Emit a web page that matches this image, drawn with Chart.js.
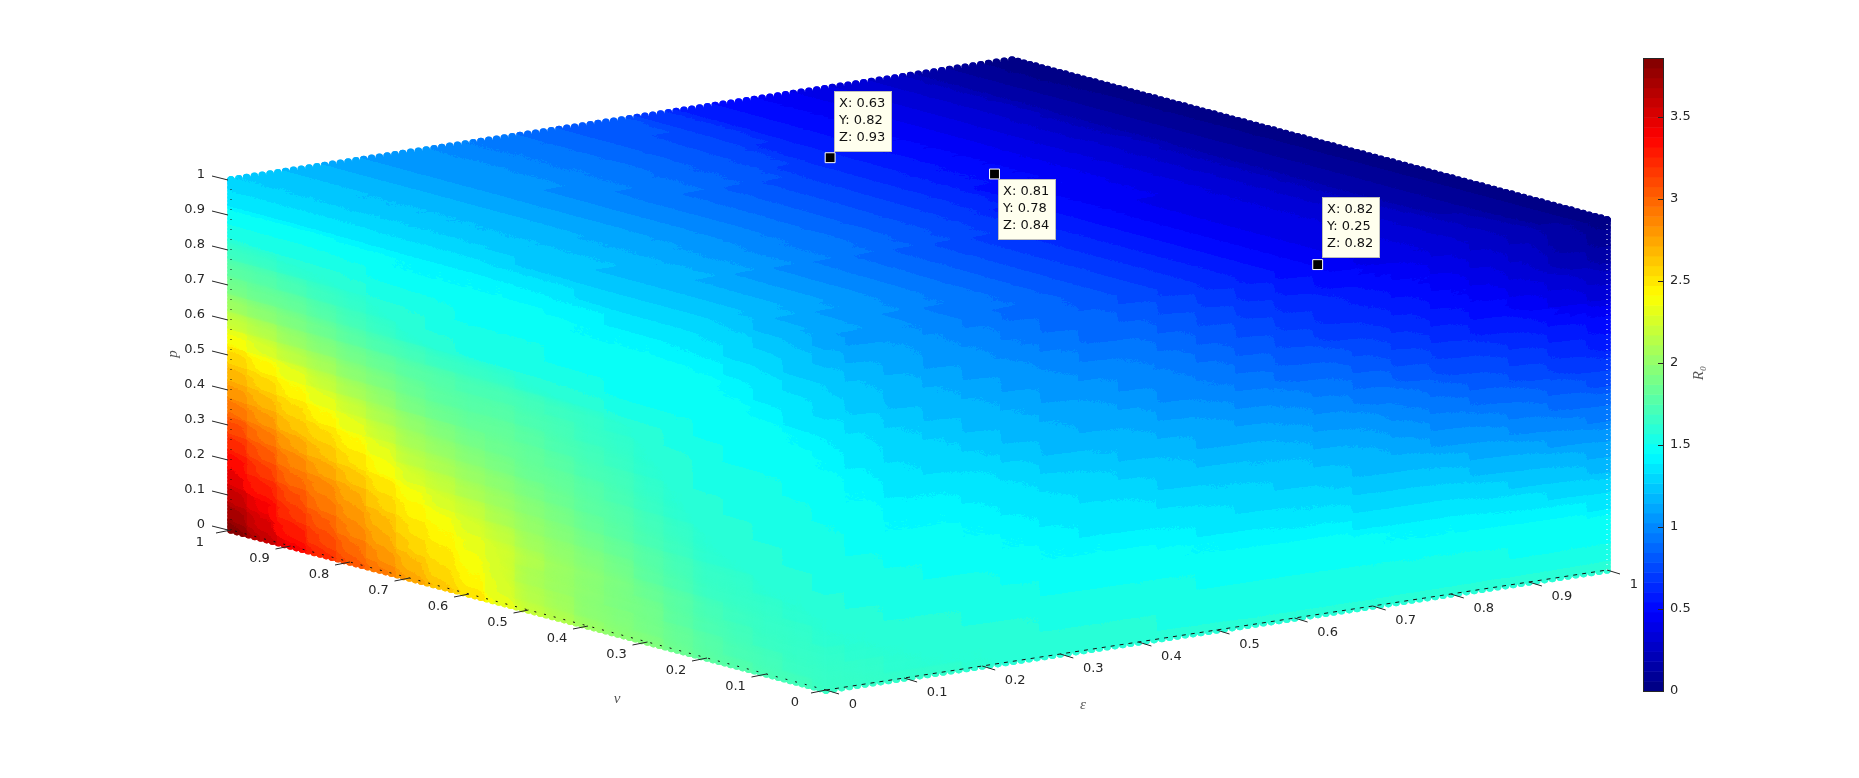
<!DOCTYPE html>
<html><head><meta charset="utf-8"><title>R0 over epsilon, nu and p</title>
<style>html,body{margin:0;padding:0;background:#fff}canvas{display:block}</style>
<script src="https://cdn.jsdelivr.net/npm/chart.js@4"></script></head><body>
<canvas id="c" width="1859" height="778"></canvas>
<script>
// Tick labels
const axisTicks = ["0","0.1","0.2","0.3","0.4","0.5","0.6","0.7","0.8","0.9","1"];
const colorbarTicks = [0,0.5,1,1.5,2,2.5,3,3.5];
const colorMax = 3.86;
// Data tips: epsilon (X), nu (Y), p (Z)
const tipEpsilon = [0.63,0.81,0.82];
const tipNu = [0.82,0.78,0.25];
const tipP = [0.93,0.84,0.82];
// R0 x 100, steps of 0.05.
// Face epsilon = 0: rows p = 0..1, columns nu = 0..1
const faceEpsilon0 = [
[167,169,172,176,180,186,193,199,205,212,220,235,250,262,275,290,305,322,340,361,383],
[165,167,169,173,177,183,189,194,199,206,213,228,243,254,266,281,296,313,330,351,372],
[163,165,166,170,174,180,187,192,198,205,211,225,238,248,258,272,287,303,319,340,360],
[162,163,165,168,171,178,185,192,198,205,212,224,235,243,252,266,280,294,308,328,348],
[160,162,163,165,167,174,180,187,193,200,206,218,227,236,245,259,272,285,297,316,335],
[158,160,161,163,165,171,177,183,188,195,202,211,219,227,236,249,263,275,287,305,323],
[156,158,159,161,162,168,173,178,183,191,197,205,211,218,226,240,253,265,276,293,310],
[155,156,158,159,160,165,170,175,180,186,191,198,203,210,217,230,243,254,265,280,295],
[153,155,156,157,158,162,166,172,177,182,185,191,195,201,208,220,232,243,254,267,280],
[151,153,155,156,157,160,164,169,173,178,182,186,188,193,200,210,221,232,243,255,268],
[149,151,153,154,155,159,162,166,169,174,178,181,181,186,191,200,209,220,231,243,255],
[147,149,151,152,153,157,161,164,167,171,174,177,177,180,185,192,199,208,217,227,238],
[145,147,149,150,151,155,159,162,165,168,169,172,173,175,178,183,188,196,203,212,220],
[142,145,147,148,150,152,154,156,158,159,161,163,165,166,169,174,179,186,192,198,204],
[139,142,145,147,148,149,149,150,151,152,153,154,155,158,160,165,170,176,181,185,188],
[136,138,141,144,146,147,148,148,149,150,151,151,152,154,157,160,164,168,172,175,178],
[132,135,137,141,144,145,146,147,147,148,148,149,149,151,153,156,158,160,162,165,167],
[128,130,133,136,139,140,142,142,143,144,145,145,146,147,148,150,151,153,154,155,156],
[124,126,129,132,134,136,137,138,139,140,141,142,142,143,143,144,144,145,146,146,145],
[118,121,124,127,129,130,131,131,132,133,134,134,135,135,135,135,136,136,137,137,136],
[112,116,119,122,124,125,125,125,125,126,126,127,127,127,127,127,127,128,128,128,127]];
// Face nu = 0: rows p = 0..1, columns epsilon = 0..1
const faceNu0 = [
[167,165,164,163,162,161,160,160,159,159,158,158,157,158,158,159,159,160,160,161,162],
[165,163,162,161,160,159,158,157,157,156,156,155,155,155,155,155,155,155,155,156,156],
[163,162,160,159,158,157,155,155,154,154,153,153,153,153,152,152,151,151,150,150,150],
[162,160,158,157,156,154,153,152,152,151,150,150,150,149,148,147,147,146,145,145,144],
[160,158,155,154,153,152,150,150,149,148,147,147,146,145,144,143,142,141,140,139,138],
[158,156,153,152,151,149,147,146,145,144,143,141,140,139,138,137,136,134,133,131,129],
[156,154,151,150,149,146,143,142,141,140,138,136,134,133,131,130,129,127,125,123,120],
[155,152,149,147,146,143,140,138,137,135,133,131,130,128,126,124,123,120,118,115,112],
[153,150,146,145,143,140,136,135,133,131,128,127,125,123,120,118,116,113,110,107,103],
[151,147,143,142,140,136,133,131,129,126,124,122,121,118,115,111,108,105,102,98,94],
[149,145,140,139,137,133,129,127,125,122,119,118,116,113,109,105,100,97,93,89,85],
[147,142,137,135,133,129,125,122,120,117,114,112,110,106,103,98,93,89,85,81,76],
[145,139,133,131,128,124,120,118,115,112,109,106,103,100,96,91,85,81,77,72,67],
[142,136,130,127,124,120,116,113,111,107,103,100,97,93,89,84,78,74,70,65,60],
[139,133,127,124,120,116,112,109,106,102,97,94,90,86,81,76,71,67,63,58,53],
[136,130,124,120,116,112,108,105,102,97,92,88,84,79,74,69,64,59,55,49,43],
[132,126,120,116,112,108,103,100,97,92,87,82,77,72,67,62,57,52,46,40,33],
[128,122,117,112,108,103,99,95,92,87,82,77,72,66,61,56,51,45,39,32,25],
[124,118,113,108,103,98,94,90,87,82,77,72,66,61,55,50,44,38,31,24,17],
[118,113,109,104,99,94,90,86,82,77,72,66,59,54,49,44,39,32,26,18,11],
[112,108,104,100,95,90,85,80,76,71,66,59,52,47,42,37,33,27,20,13,5]];
// Face p = 1: rows nu = 0..1, columns epsilon = 0..1
const faceP1 = [
[112,108,104,100,95,90,85,80,76,71,66,59,52,47,42,37,33,27,20,13,5],
[116,111,106,101,96,91,86,81,76,71,66,59,52,47,42,37,32,26,20,12,4],
[119,114,108,103,97,92,86,81,76,71,65,59,52,47,42,37,32,26,19,12,4],
[122,116,110,105,99,93,87,82,77,71,65,59,52,47,42,37,32,26,18,12,4],
[124,118,112,106,100,94,88,83,77,71,65,59,52,47,42,37,32,25,18,11,4],
[124,119,113,107,101,95,89,83,78,72,66,59,52,47,42,37,32,25,18,11,4],
[125,120,114,108,102,96,90,84,78,72,66,59,52,47,42,37,32,25,18,11,3],
[125,120,115,109,103,97,91,85,79,73,67,60,53,47,42,37,32,25,18,11,3],
[125,120,115,110,104,98,92,86,80,74,67,60,53,48,43,38,32,25,18,11,3],
[125,121,115,110,105,99,93,87,81,75,68,61,54,48,43,38,32,25,18,11,3],
[126,121,116,111,105,100,94,88,82,76,69,62,54,49,44,38,32,25,18,11,3],
[126,122,116,111,106,100,95,89,83,77,70,62,55,50,44,39,33,25,18,10,3],
[127,122,117,112,106,101,95,90,84,78,71,63,55,50,45,39,33,26,18,10,2],
[127,122,117,112,107,101,96,90,84,78,71,64,56,50,45,39,33,25,18,10,2],
[127,122,118,112,107,102,96,91,85,79,72,64,56,51,46,40,33,25,17,10,2],
[127,122,118,113,107,102,97,91,85,80,73,65,56,51,46,40,33,25,17,10,2],
[127,122,118,113,108,103,97,92,86,81,75,66,57,52,47,40,34,26,17,10,2],
[127,122,118,113,108,103,97,92,86,82,76,67,57,52,47,40,34,26,17,9,2],
[128,123,118,113,108,103,98,92,87,83,78,68,58,53,47,41,34,26,17,9,1],
[127,123,118,113,108,103,98,93,87,83,79,68,58,53,48,41,34,26,17,9,1],
[127,123,118,113,108,103,98,93,88,84,80,69,58,53,48,41,34,26,17,9,1]];

const STEP = 0.05;
const E = {x:781,y:-120}, N = {x:-595,y:-160}, P = {x:0,y:-350}, O = {x:826,y:690};
function project(e,n,p){ return {x:O.x+E.x*e+N.x*n+P.x*p, y:O.y+E.y*e+N.y*n+P.y*p}; }
function clamp(v){ return Math.max(0,Math.min(1,v)); }
function jetRGB(t){
  return [clamp(Math.min(4*t-1.5,-4*t+4.5)),clamp(Math.min(4*t-0.5,-4*t+3.5)),clamp(Math.min(4*t+0.5,-4*t+2.5))].map(c=>Math.round(c*255));
}
function jet(t){ return 'rgb('+jetRGB(t).join(',')+')'; }
const LEVELS = 64, FINE = 256;
function levelOf(r,n){ return Math.max(0,Math.min(n-1,Math.floor(r/colorMax*n))); }
const sprites = {};
// opaque cell: covers the value's own grid cell
function hardSprite(name,u,v,level){
  const key='h'+name+level;
  if(sprites[key]) return sprites[key];
  const a={x:u.x*STEP/2,y:u.y*STEP/2}, b={x:v.x*STEP/2,y:v.y*STEP/2};
  const pad=3, w=2*Math.ceil(Math.abs(a.x)+Math.abs(b.x)+pad), h=2*Math.ceil(Math.abs(a.y)+Math.abs(b.y)+pad);
  const cv=document.createElement('canvas'); cv.width=w; cv.height=h;
  const g=cv.getContext('2d'); g.translate(w/2,h/2);
  g.fillStyle=g.strokeStyle=jet((level+0.5)/LEVELS); g.lineWidth=2; g.lineJoin='round';
  g.beginPath(); g.moveTo(a.x+b.x,a.y+b.y); g.lineTo(a.x-b.x,a.y-b.y); g.lineTo(-a.x-b.x,-a.y-b.y); g.lineTo(-a.x+b.x,-a.y+b.y); g.closePath();
  g.fill(); g.stroke();
  return sprites[key]=cv;
}
// soft mark: fades out towards the neighbouring values of the grid
function softSprite(name,u,v,level){
  const key='s'+name+level;
  if(sprites[key]) return sprites[key];
  const ux=u.x*STEP, uy=u.y*STEP, vx=v.x*STEP, vy=v.y*STEP, det=ux*vy-uy*vx;
  const w=2*Math.ceil(Math.abs(ux)+Math.abs(vx)+1), h=2*Math.ceil(Math.abs(uy)+Math.abs(vy)+1);
  const cv=document.createElement('canvas'); cv.width=w; cv.height=h;
  const g=cv.getContext('2d'), img=g.createImageData(w,h), col=jetRGB((level+0.5)/FINE);
  for(let y=0;y<h;y++) for(let x=0;x<w;x++){
    const dx=x+0.5-w/2, dy=y+0.5-h/2;
    const s=(dx*vy-dy*vx)/det, t=(ux*dy-uy*dx)/det;
    const al=Math.max(0,1-Math.abs(s))*Math.max(0,1-Math.abs(t));
    const k=4*(y*w+x);
    img.data[k]=col[0]; img.data[k+1]=col[1]; img.data[k+2]=col[2]; img.data[k+3]=Math.round(al*255);
  }
  g.putImageData(img,0,0);
  return sprites[key]=cv;
}
function faceDatasets(name,table,toPoint,u,v,outline,rim){
  const data=[];
  table.forEach((row,i)=>row.forEach((val,j)=>{
    const q=toPoint(i*STEP,j*STEP);
    data.push({x:q.x,y:q.y,r:val/100});
  }));
  const base={data,showLine:false,clip:false,pointRadius:6,borderWidth:0,outline,rim};
  return [
    Object.assign({label:name+' soft',pointStyle:c=>c.raw?softSprite(name,u,v,levelOf(c.raw.r,FINE)):'circle'},base),
    Object.assign({label:name,pointStyle:c=>c.raw?hardSprite(name,u,v,levelOf(c.raw.r,LEVELS)):'circle'},base)
  ];
}
// outer edges of the cloud show the round markers
function edgeDots(f){ const out=[]; for(let i=0;i<=100;i++) out.push(f(i/100)); return out; }
const s0=-0.003, s1=1.003;
const dsA=faceDatasets('epsilon=0',faceEpsilon0,(p,n)=>project(0,n,p),N,P,
  [project(0,s0,0),project(0,1,0),project(0,1,s1),project(0,s0,s1)],
  edgeDots(t=>project(0,1,t)).concat(edgeDots(t=>project(0,t,0))));
const dsB=faceDatasets('nu=0',faceNu0,(p,e)=>project(e,0,p),E,P,
  [project(s0,0,0),project(1,0,0),project(1,0,s1),project(s0,0,s1)],
  edgeDots(t=>project(t,0,0)).concat(edgeDots(t=>project(1,0,t))));
const dsC=faceDatasets('p=1',faceP1,(n,e)=>project(e,n,1),E,N,
  [project(0,0,1),project(1,0,1),project(1,1,1),project(0,1,1)],
  edgeDots(t=>project(1,t,1)).concat(edgeDots(t=>project(t,1,1))));
const tips=tipEpsilon.map((e,i)=>{const q=project(e,tipNu[i],tipP[i]);return {x:q.x,y:q.y,e,n:tipNu[i],p:tipP[i]};});
const dsTips={label:'tips',data:tips,showLine:false,clip:false,pointStyle:'rect',pointRadius:7,backgroundColor:'#000',borderColor:'#fff',borderWidth:1};

// snap the drawn surface to the 64 levels of the colormap
function snapToColormap(chart){
  const ctx=chart.ctx, W=1630, H=chart.height, img=ctx.getImageData(0,0,W,H), d=img.data;
  const table=[]; for(let i=0;i<LEVELS;i++) table.push(jetRGB((i+0.5)/LEVELS));
  for(let k=0;k<d.length;k+=4){
    const r=d[k], g=d[k+1], b=d[k+2];
    if(Math.min(r,g,b)>40) continue;
    let t;
    if(g>=250||(r>6&&b>6)) t=0.375+((r-b)/255+1)/2*0.25;
    else if(b>r) t=g<3?(b/255-0.5)/4:0.125+g/255*0.25;
    else t=g>3?0.625+(1-g/255)*0.25:0.875+(1-r/255)*0.25;
    const c=table[Math.max(0,Math.min(LEVELS-1,Math.floor(t*LEVELS)))];
    d[k]=c[0]; d[k+1]=c[1]; d[k+2]=c[2];
  }
  ctx.putImageData(img,0,0);
}
function line(ctx,x0,y0,x1,y1){ctx.beginPath();ctx.moveTo(x0,y0);ctx.lineTo(x1,y1);ctx.stroke();}
const chrome={
  id:'chrome',
  beforeDatasetDraw(chart,args){
    const ds=chart.data.datasets[args.index]; if(!ds.outline) return;
    const {x,y}=chart.scales, ctx=chart.ctx;
    const pts=ds.outline.map(q=>[x.getPixelForValue(q.x),y.getPixelForValue(q.y)]);
    let area=0; pts.forEach((a,i)=>{const b=pts[(i+1)%pts.length]; area+=a[0]*b[1]-b[0]*a[1];});
    ctx.save(); ctx.beginPath();
    pts.forEach((a,i)=>{i?ctx.lineTo(a[0],a[1]):ctx.moveTo(a[0],a[1]);});
    ctx.closePath();
    ds.rim.forEach(q=>{const X=x.getPixelForValue(q.x),Y=y.getPixelForValue(q.y); ctx.moveTo(X+3.8,Y); ctx.arc(X,Y,3.8,0,2*Math.PI,area<0);});
    ctx.clip();
  },
  afterDatasetDraw(chart,args){
    if(chart.data.datasets[args.index].outline) chart.ctx.restore();
    if(args.index===1) snapToColormap(chart);
  },
  beforeDatasetsDraw(chart){
    // colour bar, one cell per colormap level, on the colour bar's own scale
    const ctx=chart.ctx, s=chart.scales.cb, L=1643, R=1663;
    for(let i=0;i<LEVELS;i++){
      const y0=s.getPixelForValue(i*colorMax/LEVELS), y1=s.getPixelForValue((i+1)*colorMax/LEVELS);
      ctx.fillStyle=jet((i+0.5)/LEVELS); ctx.fillRect(L,y1,R-L,y0-y1+0.5);
    }
    ctx.strokeStyle='#262626'; ctx.lineWidth=1; ctx.strokeRect(L+0.5,s.top+0.5,R-L,s.bottom-s.top);
    colorbarTicks.forEach(v=>{const y=Math.round(s.getPixelForValue(v))+0.5; if(v>0) line(ctx,R-5,y,R,y);});
  },
  afterDatasetsDraw(chart){
    const ctx=chart.ctx, {x,y}=chart.scales;
    const px=q=>({x:x.getPixelForValue(q.x),y:y.getPixelForValue(q.y)});
    ctx.save();
    // dotted box edges
    ctx.lineWidth=1;
    const edge=(a,b,dash,col)=>{const A=px(a),B=px(b);ctx.strokeStyle=col;ctx.setLineDash(dash);line(ctx,A.x,A.y,B.x,B.y);};
    edge(project(0,1,0),project(0,1,1),[1,9],'#111');
    edge(project(0,0,0),project(0,1,0),[2,8],'#111');
    edge(project(0,0,0),project(1,0,0),[4,5],'#111');
    edge(project(1,0,0),project(1,0,1),[1,4],'#fff');
    ctx.setLineDash([]);
    // ticks and tick labels on the three visible axes
    ctx.font='13px "DejaVu Sans"'; ctx.fillStyle='#262626'; ctx.strokeStyle='#262626'; ctx.textBaseline='middle';
    axisTicks.forEach(lbl=>{
      const t=parseFloat(lbl);
      let a=px(project(0,1,t)); a.x-=3;
      line(ctx,a.x,a.y,a.x-16,a.y-4); ctx.textAlign='right'; ctx.fillText(lbl,a.x-23,a.y-5);
      a=px(project(0,t,0));
      line(ctx,a.x,a.y,a.x-15,a.y+3); ctx.textAlign='center'; ctx.fillText(lbl,a.x-31,a.y+13);
      a=px(project(t,0,0));
      line(ctx,a.x,a.y,a.x+13,a.y+4); ctx.textAlign='center'; ctx.fillText(lbl,a.x+(lbl.length>1?33:27),a.y+15);
    });
    // axis names
    ctx.textAlign='center'; ctx.fillStyle='#555';
    ctx.font='italic 15px "Liberation Serif"';
    ctx.fillText('\u03BD',617,699); ctx.fillText('\u03B5',1083,705);
    ctx.save(); ctx.translate(173,354); ctx.rotate(-Math.PI/2); ctx.fillText('p',0,0); ctx.restore();
    ctx.save(); ctx.translate(1699,373); ctx.rotate(-Math.PI/2); ctx.fillText('R\u2080',0,0); ctx.restore();
    // data tip boxes
    const boxOffset=[[4,-67],[3.5,5],[4,-67.5]];
    tips.forEach((t,i)=>{
      const a=px(t), bx=Math.round(a.x+boxOffset[i][0]), by=Math.round(a.y+boxOffset[i][1]);
      ctx.fillStyle='#ffffee'; ctx.strokeStyle='#bdbdbd'; ctx.lineWidth=1;
      ctx.fillRect(bx,by,57,60); ctx.strokeRect(bx+0.5,by+0.5,57,60);
      ctx.fillStyle='#111'; ctx.font='13px "DejaVu Sans"'; ctx.textAlign='left'; ctx.textBaseline='middle';
      ctx.fillText('X: '+t.e.toFixed(2),bx+5,by+13);
      ctx.fillText('Y: '+t.n.toFixed(2),bx+5,by+30);
      ctx.fillText('Z: '+t.p.toFixed(2),bx+5,by+47);
    });
    ctx.restore();
  }
};
const chart=new Chart(document.getElementById('c'),{
  type:'scatter',
  data:{datasets:[dsTips,...dsC,...dsB,...dsA]},
  plugins:[chrome],
  options:{
    responsive:false,animation:false,devicePixelRatio:1,
    layout:{padding:{left:0,top:58,right:156,bottom:87}},
    plugins:{legend:{display:false},tooltip:{enabled:false}},
    events:[],
    scales:{
      x:{type:'linear',display:false,min:0,max:1663},
      y:{type:'linear',display:false,min:58,max:691,reverse:true},
      cb:{type:'linear',position:'right',min:0,max:colorMax,
        grid:{display:false,drawTicks:false},border:{display:false},
        afterBuildTicks:s=>{s.ticks=colorbarTicks.map(v=>({value:v}));},
        afterFit:s=>{s.width=40;},
        ticks:{padding:7,autoSkip:false,color:'#262626',font:{family:'"DejaVu Sans"',size:13},callback:v=>String(v)}}
    }
  }
});
// make the plot scales run in canvas units over the laid-out plot area
chart.options.scales.x.min=chart.scales.x.left; chart.options.scales.x.max=chart.scales.x.right;
chart.options.scales.y.min=chart.scales.y.top; chart.options.scales.y.max=chart.scales.y.bottom;
chart.update();
</script></body></html>
